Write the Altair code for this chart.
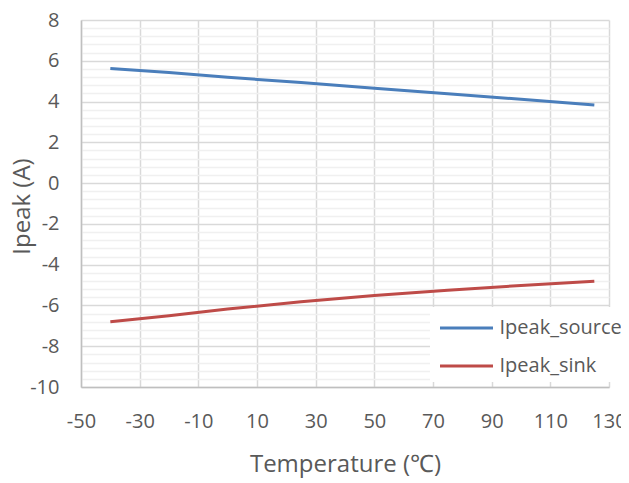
import altair as alt
import pandas as pd

temps = [-40, -20, 0, 25, 50, 75, 100, 125]
ipeak_source = [5.62, 5.42, 5.19, 4.93, 4.65, 4.38, 4.11, 3.83]
ipeak_sink = [-6.80, -6.50, -6.18, -5.82, -5.51, -5.25, -5.02, -4.81]
series_names = ["Ipeak_source", "Ipeak_sink"]
series_colors = ["#4a7ebb", "#be4b48"]

x_ticks = [-50, -30, -10, 10, 30, 50, 70, 90, 110, 130]
y_grid = [round(-10 + 0.4 * i, 1) for i in range(46)]

rows = []
for t, v in zip(temps, ipeak_source):
    rows.append({"temp": t, "value": v, "series": series_names[0]})
for t, v in zip(temps, ipeak_sink):
    rows.append({"temp": t, "value": v, "series": series_names[1]})
df = pd.DataFrame(rows)

FONT = "Open Sans"
LABEL_COLOR = "#595959"

major_test = "abs(datum.value % 2) < 0.01"

chart = alt.Chart(df).mark_line(strokeWidth=3).encode(
    x=alt.X(
        "temp:Q",
        scale=alt.Scale(domain=[-50, 130], nice=False, zero=False),
        axis=alt.Axis(
            title="Temperature (℃)",
            values=x_ticks,
            labelExpr="toString(datum.value)",
            labelFlush=False,
            ticks=False,
            grid=True,
            gridColor="#d9d9d9",
            gridWidth=1.5,
            domainColor="#bfbfbf",
            domainWidth=1.5,
            labelFont=FONT,
            labelFontSize=20,
            labelColor=LABEL_COLOR,
            labelPadding=24,
            labelOverlap=False,
            titleFont=FONT,
            titleFontSize=24,
            titleFontWeight="normal",
            titleColor=LABEL_COLOR,
            titlePadding=21,
        ),
    ),
    y=alt.Y(
        "value:Q",
        scale=alt.Scale(domain=[-10, 8], nice=False, zero=False),
        axis=alt.Axis(
            title="Ipeak (A)",
            values=y_grid,
            labelExpr=f"{major_test} ? toString(round(datum.value)) : ''",
            labelFlush=False,
            ticks=False,
            grid=True,
            gridColor={"condition": {"test": major_test, "value": "#d9d9d9"}, "value": "#f0f0f0"},
            gridWidth=1.5,
            domainColor="#bfbfbf",
            domainWidth=1.5,
            labelFont=FONT,
            labelFontSize=20,
            labelColor=LABEL_COLOR,
            labelPadding=22,
            labelOverlap=False,
            titleFont=FONT,
            titleFontSize=24,
            titleFontWeight="normal",
            titleColor=LABEL_COLOR,
            titleX=-59,
            titleY=186,
            titleAlign="center",
            titleBaseline="middle",
        ),
    ),
    color=alt.Color(
        "series:N",
        scale=alt.Scale(domain=series_names, range=series_colors),
        sort=series_names,
        legend=alt.Legend(
            title=None,
            orient="none",
            legendX=349,
            legendY=287,
            fillColor="white",
            padding=6,
            symbolType="M-2,0H2",
            symbolSize=702,
            symbolStrokeWidth=3,
            symbolOffset=15.5,
            labelFont=FONT,
            labelFontSize=20,
            labelColor=LABEL_COLOR,
            labelOffset=18,
            rowPadding=13,
        ),
    ),
).properties(
    width=528,
    height=367,
    autosize=alt.AutoSizeParams(type="none"),
    padding={"left": 73, "top": 12, "right": 12, "bottom": 95},
).configure_view(stroke=None)

chart.save("out.html", embed_options={"renderer": "svg", "actions": False})
